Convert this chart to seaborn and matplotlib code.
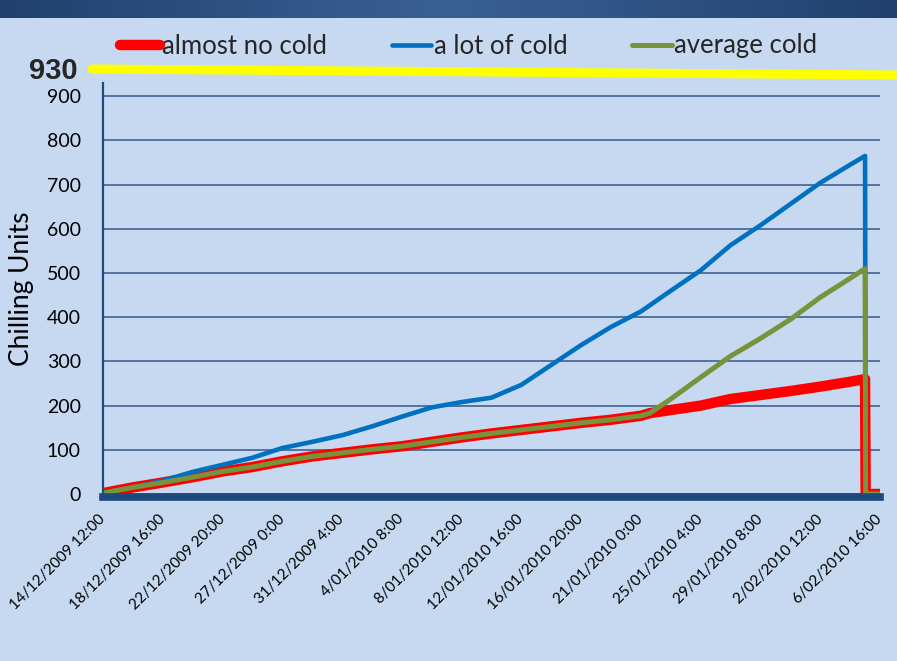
import matplotlib
matplotlib.use("Agg")
import matplotlib.pyplot as plt
from matplotlib.colors import LinearSegmentedColormap
from matplotlib.lines import Line2D
import numpy as np
import pandas as pd
import seaborn as sns

# hours since the first reading
start = pd.Timestamp("2009-12-14 12:00")
hours = [0, 50, 100, 150, 200, 250, 300, 350, 400, 450, 500, 550, 600, 650,
         700, 750, 800, 850, 900, 915, 950, 1000, 1050, 1100, 1150, 1200,
         1250, 1275, 1276, 1300]
almost_no_cold = [2, 15, 26, 38, 51, 61, 74, 85, 93, 101, 108, 118, 128, 137,
                  145, 153, 161, 168, 177, 183, 190, 200, 215, 224, 233, 243,
                  254, 260, 0, 0]
a_lot_of_cold = [2, 15, 30, 50, 66, 82, 104, 118, 133, 153, 175, 196, 208, 218,
                 247, 292, 337, 378, 413, 427, 460, 506, 563, 608, 656, 704,
                 745, 765, 0, 0]
average_cold = [2, 15, 26, 38, 51, 61, 74, 85, 93, 101, 108, 118, 128, 137,
                145, 153, 161, 168, 177, 183, 215, 264, 312, 352, 395, 445,
                488, 510, 0, 0]

tick_labels = ["14/12/2009 12:00", "18/12/2009 16:00", "22/12/2009 20:00",
               "27/12/2009 0:00", "31/12/2009 4:00", "4/01/2010 8:00",
               "8/01/2010 12:00", "12/01/2010 16:00", "16/01/2010 20:00",
               "21/01/2010 0:00", "25/01/2010 4:00", "29/01/2010 8:00",
               "2/02/2010 12:00", "6/02/2010 16:00"]
tick_step_hours = 100
y_ticks = list(range(0, 1000, 100))

BG = "#c6d9f1"
NAVY = "#1f497d"

df = pd.DataFrame({
    "time": start + pd.to_timedelta(hours, unit="h"),
    "almost no cold": almost_no_cold,
    "a lot of cold": a_lot_of_cold,
    "average cold": average_cold,
})

sns.set_style("white")
plt.rcParams["font.family"] = ["Lato", "DejaVu Sans"]

fig = plt.figure(figsize=(8.97, 6.61), dpi=100, facecolor=BG)

# dark banner across the top
bax = fig.add_axes([0, 1 - 18 / 661, 1, 18 / 661])
cmap = LinearSegmentedColormap.from_list("banner", ["#21406f", "#3a6194", "#21406f"])
bax.imshow(np.linspace(0, 1, 256).reshape(1, -1), aspect="auto", cmap=cmap)
bax.axis("off")

ax = fig.add_axes([103 / 897, 1 - 494 / 661, 777 / 897, (494 - 83) / 661])
ax.set_facecolor(BG)

sns.lineplot(data=df, x="time", y="almost no cold", color="#ff0000",
             linewidth=7.5, ax=ax, label="almost no cold")
sns.lineplot(data=df, x="time", y="a lot of cold", color="#0070c0",
             linewidth=3.3, ax=ax, label="a lot of cold")
sns.lineplot(data=df, x="time", y="average cold", color="#77933c",
             linewidth=3.6, ax=ax, label="average cold")

ax.set_ylim(0, 930)
ax.set_xlim(start, start + pd.Timedelta(hours=tick_step_hours * (len(tick_labels) - 1)))
ax.set_yticks(y_ticks)

ax.yaxis.grid(True, color="#4a6b99", linewidth=1.3)
ax.xaxis.grid(False)
ax.set_axisbelow(True)

for s in ["top", "right"]:
    ax.spines[s].set_visible(False)
ax.spines["left"].set_color(NAVY)
ax.spines["left"].set_linewidth(1.6)
ax.spines["bottom"].set_color(NAVY)
ax.spines["bottom"].set_linewidth(5.5)
ax.spines["bottom"].set_position(("outward", 2.5))

ax.tick_params(axis="y", length=5, width=1.3, color=NAVY, pad=11,
               labelsize=14, labelcolor="black")
ax.tick_params(axis="x", length=0, pad=14, labelsize=11, labelcolor="black")

tick_pos = [start + pd.Timedelta(hours=tick_step_hours * i) for i in range(len(tick_labels))]
ax.set_xticks(tick_pos)
ax.set_xticklabels(tick_labels)
for lbl in ax.get_xticklabels():
    lbl.set_rotation(45)
    lbl.set_ha("right")
    lbl.set_va("center")
    lbl.set_rotation_mode("anchor")

ax.set_xlabel("")
ax.set_ylabel("Chilling Units", fontsize=19, color="black")
ax.yaxis.set_label_coords((34 - 103) / 777, 0.5)

handles, labels = ax.get_legend_handles_labels()
ax.legend(handles, labels, ncol=3, loc="center left",
          bbox_to_anchor=(120 / 897, 1 - 46 / 661), bbox_transform=fig.transFigure,
          frameon=False, fontsize=18.5, handlelength=1.55, handletextpad=0.1,
          columnspacing=2.5, borderpad=0, borderaxespad=0)

# 930 marker with the yellow threshold line
fig.text(78 / 897, 1 - 71 / 661, "930", ha="right", va="center",
         fontsize=21, fontweight="bold", family="Liberation Sans", color="#262626")
fig.add_artist(Line2D([92 / 897, 1.0], [1 - 69 / 661, 1 - 75 / 661],
                      transform=fig.transFigure, color="#ffff00", linewidth=6.5))

fig.savefig("out.png", dpi=100, facecolor=BG)
